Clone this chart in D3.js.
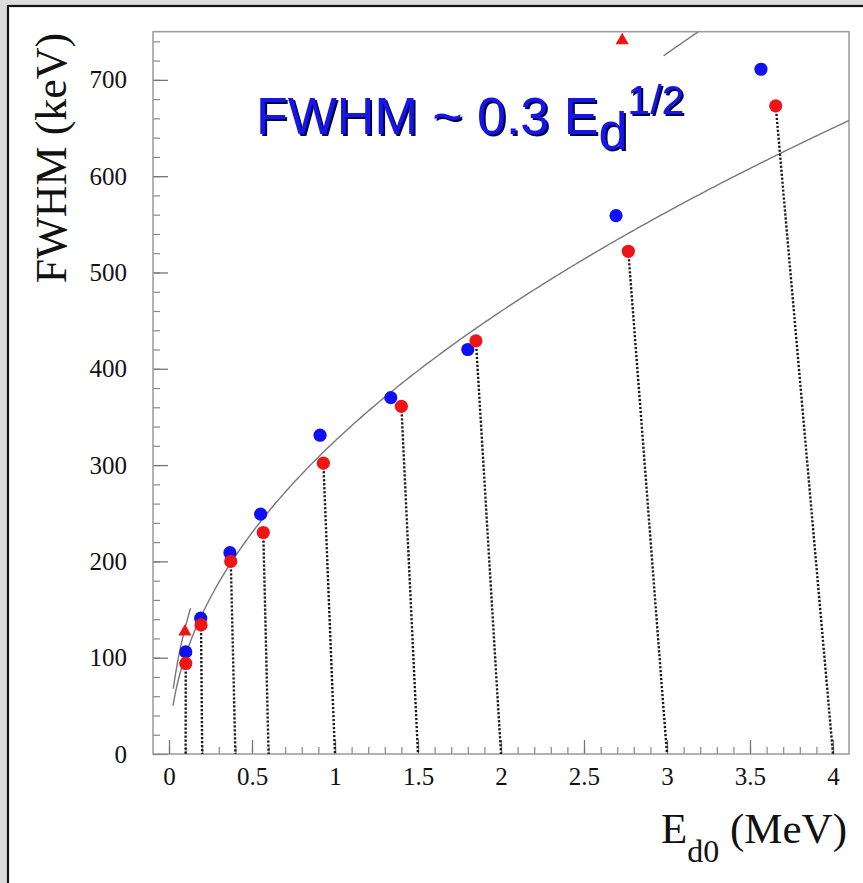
<!DOCTYPE html>
<html>
<head>
<meta charset="utf-8">
<script src="https://cdn.jsdelivr.net/npm/d3@7"></script>
<style>
  html, body { margin: 0; padding: 0; background: #dcdcdc; }
  svg { display: block; }
</style>
</head>
<body>
<svg id="chart" width="863" height="883"></svg>
<script>
// ---------------- data ----------------
const blueE      = [0.101, 0.191, 0.367, 0.552, 0.910, 1.336, 1.800, 2.693, 3.566];
const blueFWHM   = [106, 141, 209, 249, 331, 370, 420, 559, 711];
const redE       = [0.101, 0.193, 0.372, 0.568, 0.930, 1.400, 1.849, 2.767, 3.655];
const redFWHM    = [94, 134, 200, 230, 302, 361, 429, 522, 673];
const nominalE   = [0.1, 0.2, 0.4, 0.6, 1, 1.5, 2, 3, 4];
const triE       = [0.096, 2.73];
const triFWHM    = [127, 741];
const fitCoefLow  = 325;   // FWHM = a * sqrt(E)
const fitCoefHigh = 420;
const lowFitRange = [0.024, 4.2];
const highFitRanges = [[0.026, 0.13], [2.98, 3.3]];
const xTickValues = [0, 0.5, 1, 1.5, 2, 2.5, 3, 3.5, 4];
const xTickLabels = ["0", "0.5", "1", "1.5", "2", "2.5", "3", "3.5", "4"];
const yTickValues = [0, 100, 200, 300, 400, 500, 600, 700];
const yTickLabels = ["0", "100", "200", "300", "400", "500", "600", "700"];

// ---------------- layout ----------------
const svg = d3.select("#chart");
const L = 153, R = 849, T = 31.7, B = 754;
const x = d3.scaleLinear().domain([-0.0964, 4.0964]).range([L, R]);
const y = d3.scaleLinear().domain([0, 750]).range([B, T]);
const serif = "'Liberation Serif', 'Times New Roman', serif";
const sans = "'Liberation Sans', Arial, sans-serif";

const defs = svg.append("defs");
const f = defs.append("filter").attr("id", "shadow").attr("x", "-5%").attr("y", "-20%")
  .attr("width", "115%").attr("height", "150%");
f.append("feDropShadow").attr("dx", 2).attr("dy", 2).attr("stdDeviation", 0.4)
  .attr("flood-color", "#000050").attr("flood-opacity", 1);

// outer panel
svg.append("rect").attr("x", 0).attr("y", 0).attr("width", 863).attr("height", 883).attr("fill", "#dcdcdc");
svg.append("rect").attr("x", 8).attr("y", 6).attr("width", 900).attr("height", 900)
  .attr("fill", "#fff").attr("stroke", "#111").attr("stroke-width", 2.2);

defs.append("clipPath").attr("id", "plotclip").append("rect")
  .attr("x", L).attr("y", T).attr("width", R - L).attr("height", B - T);

// minor ticks
const xMinor = d3.range(0, 4.05, 0.1).map(v => +v.toFixed(2));
const yMinor = d3.range(0, 750, 20);
svg.append("g").attr("transform", `translate(0,${B})`)
  .call(d3.axisBottom(x).tickValues(xMinor).tickSizeInner(-7).tickSizeOuter(0).tickFormat(""))
  .call(g => g.select(".domain").remove())
  .call(g => g.selectAll("line").attr("stroke", "#888").attr("stroke-width", 1.2));
svg.append("g").attr("transform", `translate(${L},0)`)
  .call(d3.axisLeft(y).tickValues(yMinor).tickSizeInner(-7).tickSizeOuter(0).tickFormat(""))
  .call(g => g.select(".domain").remove())
  .call(g => g.selectAll("line").attr("stroke", "#888").attr("stroke-width", 1.2));

// major ticks + labels
svg.append("g").attr("transform", `translate(0,${B})`)
  .call(d3.axisBottom(x).tickValues(xTickValues).tickSizeInner(-14).tickSizeOuter(0).tickPadding(13)
    .tickFormat((d, i) => xTickLabels[i]))
  .call(g => g.select(".domain").remove())
  .call(g => g.selectAll("line").attr("stroke", "#777").attr("stroke-width", 1.3))
  .call(g => g.selectAll("text").attr("font-family", serif).attr("font-size", 25).attr("fill", "#111"));
svg.append("g").attr("transform", `translate(${L},0)`)
  .call(d3.axisLeft(y).tickValues(yTickValues).tickSizeInner(-15).tickSizeOuter(0).tickPadding(26)
    .tickFormat((d, i) => yTickLabels[i]))
  .call(g => g.select(".domain").remove())
  .call(g => g.selectAll("line").attr("stroke", "#777").attr("stroke-width", 1.3))
  .call(g => g.selectAll("text").attr("font-family", serif).attr("font-size", 25).attr("fill", "#111"));

// frame
svg.append("rect").attr("x", L).attr("y", T).attr("width", R - L).attr("height", B - T)
  .attr("fill", "none").attr("stroke", "#999").attr("stroke-width", 1.5);

const plot = svg.append("g").attr("clip-path", "url(#plotclip)");

// fit curves
const line = d3.line().x(d => x(d[0])).y(d => y(d[1]));
function curvePts(a, e0, e1) {
  const n = 300, pts = [];
  for (let i = 0; i <= n; i++) {
    const e = e0 + (e1 - e0) * i / n;
    pts.push([e, a * Math.sqrt(e)]);
  }
  return pts;
}
plot.append("path").attr("d", line(curvePts(fitCoefLow, lowFitRange[0], lowFitRange[1])))
  .attr("fill", "none").attr("stroke", "#777").attr("stroke-width", 1.4);
highFitRanges.forEach(r => {
  plot.append("path").attr("d", line(curvePts(fitCoefHigh, r[0], r[1])))
    .attr("fill", "none").attr("stroke", "#777").attr("stroke-width", 1.4);
});

// dotted drop lines from red points to nominal energy on axis
redE.forEach((e, i) => {
  plot.append("line")
    .attr("x1", x(e)).attr("y1", y(redFWHM[i]))
    .attr("x2", x(nominalE[i])).attr("y2", y(0))
    .attr("stroke", "#1a1a1a").attr("stroke-width", 2.4).attr("stroke-dasharray", "2.2,1.8");
});

// points
blueE.forEach((e, i) => {
  plot.append("circle").attr("cx", x(e)).attr("cy", y(blueFWHM[i])).attr("r", 6.6).attr("fill", "#1010f5");
});
redE.forEach((e, i) => {
  plot.append("circle").attr("cx", x(e)).attr("cy", y(redFWHM[i])).attr("r", 6.6).attr("fill", "#f01515");
});
const tri = d3.symbol().type(d3.symbolTriangle).size(75);
triE.forEach((e, i) => {
  plot.append("path").attr("d", tri).attr("transform", `translate(${x(e)},${y(triFWHM[i])})`)
    .attr("fill", "#f01515");
});

// axis titles
svg.append("text").attr("transform", "translate(66,158) rotate(-90)")
  .attr("text-anchor", "middle").attr("font-family", serif).attr("font-size", 44).attr("fill", "#111")
  .text("FWHM (keV)");

const xt = svg.append("text").attr("x", 847).attr("y", 843).attr("text-anchor", "end")
  .attr("font-family", serif).attr("font-size", 43).attr("fill", "#111");
xt.append("tspan").text("E");
xt.append("tspan").attr("dy", 19).attr("font-size", 32).text("d0");
xt.append("tspan").attr("dy", -19).text(" (MeV)");

// annotation title with shadow
const tt = svg.append("text").attr("x", 256).attr("y", 134)
  .attr("font-family", sans).attr("font-size", 52).attr("fill", "#1414e6")
  .attr("filter", "url(#shadow)");
tt.append("tspan").text("FWHM ~ 0.3 E");
tt.append("tspan").attr("dy", 15).text("d");
tt.append("tspan").attr("dy", -35).attr("font-size", 41).text("1/2");
</script>
</body>
</html>
